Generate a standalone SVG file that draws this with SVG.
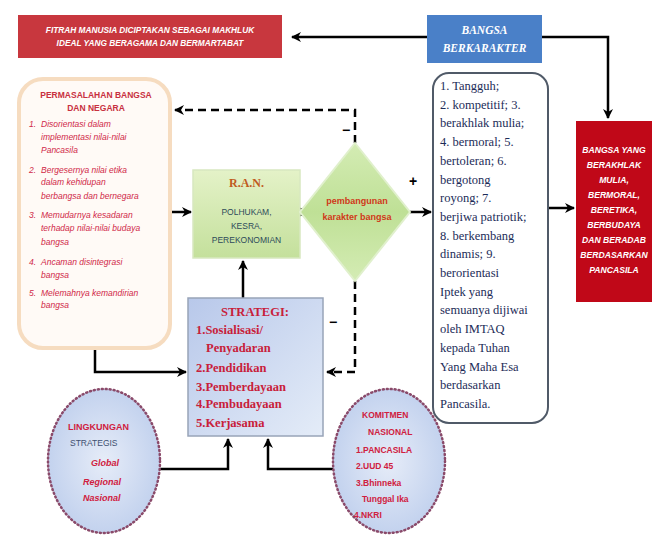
<svg xmlns="http://www.w3.org/2000/svg" width="656" height="540" viewBox="0 0 656 540">
<style>
.ln{fill:none;stroke:#000;stroke-width:2.5}
.dash{fill:none;stroke:#000;stroke-width:2.5;stroke-dasharray:8 5}
.sans{font-family:"Liberation Sans",Arial,sans-serif}
.serif{font-family:"Liberation Serif","Times New Roman",serif}
.wt{fill:#fff;font-weight:bold}
.perm{fill:#d02848;font-size:8.5px;font-style:italic}
.right{fill:#1c2c58;font-size:12.5px}
.strat{fill:#c8203a;font-size:12.5px;font-weight:bold}
.ell{fill:#d02040;font-weight:bold}
.sign{font-family:"Liberation Sans",Arial,sans-serif;font-size:14px;fill:#000;font-weight:bold}
</style>
<defs>
<marker id="ah" viewBox="0 0 10 10" refX="9" refY="5" markerWidth="4" markerHeight="4" orient="auto-start-reverse" markerUnits="strokeWidth">
<path d="M0,0 L10,5 L0,10 L3,5 z" fill="#000"/>
</marker>
<linearGradient id="gGreen" x1="0" y1="0" x2="0" y2="1">
<stop offset="0" stop-color="#e4f2c8"/><stop offset="1" stop-color="#c4e09c"/>
</linearGradient>
<linearGradient id="gDia" x1="0" y1="0" x2="0" y2="1">
<stop offset="0" stop-color="#d4ecb4"/><stop offset="0.5" stop-color="#bfe096"/><stop offset="1" stop-color="#d4ecb4"/>
</linearGradient>
<linearGradient id="gStrat" x1="0" y1="0" x2="1" y2="1">
<stop offset="0" stop-color="#b8c8ea"/><stop offset="1" stop-color="#e4ecf8"/>
</linearGradient>
<radialGradient id="gEll" cx="0.5" cy="0.5" r="0.6">
<stop offset="0" stop-color="#e6ecf8"/><stop offset="1" stop-color="#bccdec"/>
</radialGradient>
</defs>
<rect width="656" height="540" fill="#fff"/>

<g id="connectors">
<path class="ln" d="M427,37 H292" marker-end="url(#ah)"/>
<path class="ln" d="M542,37 H608 V118" marker-end="url(#ah)"/>
<path class="dash" d="M355,143 V110 H175" marker-end="url(#ah)"/>
<path class="ln" d="M170,212 H191" marker-end="url(#ah)"/>
<path class="ln" d="M300,212 H308" marker-end="url(#ah)"/>
<path class="ln" d="M410,212 H431" marker-end="url(#ah)"/>
<path class="ln" d="M548,208 H574" marker-end="url(#ah)"/>
<path class="ln" d="M243,298 V261" marker-end="url(#ah)"/>
<path class="dash" d="M355,281 V372 H327" marker-end="url(#ah)"/>
<path class="ln" d="M95,350 V372 H186" marker-end="url(#ah)"/>
<path class="ln" d="M160,469 H228 V439" marker-end="url(#ah)"/>
<path class="ln" d="M333,469 H268 V439" marker-end="url(#ah)"/>
<text class="sign" x="342" y="135">−</text>
<text class="sign" x="329" y="327">−</text>
<text class="sign" x="409" y="186">+</text>
</g>

<g id="fitrah">
<rect x="18" y="15" width="264" height="43" fill="#c8373e"/>
<text class="sans wt" font-size="8.3" font-style="italic" text-anchor="middle" x="150" y="33">FITRAH MANUSIA DICIPTAKAN SEBAGAI MAKHLUK</text>
<text class="sans wt" font-size="8.3" font-style="italic" text-anchor="middle" x="150" y="46">IDEAL YANG BERAGAMA DAN BERMARTABAT</text>
</g>

<g id="bangsa-berkarakter">
<rect x="427" y="15" width="115" height="48" fill="#4a80c8"/>
<text class="serif wt" font-size="11.5" font-style="italic" text-anchor="middle" x="484.5" y="34">BANGSA</text>
<text class="serif wt" font-size="11.5" font-style="italic" text-anchor="middle" x="484.5" y="52">BERKARAKTER</text>
</g>

<g id="permasalahan">
<rect x="19" y="79" width="151" height="269" rx="24" fill="#fffaf6" stroke="#f6dcc0" stroke-width="4"/>
<text class="sans" font-size="8.5" font-weight="bold" fill="#c83040" text-anchor="middle" x="96" y="98">PERMASALAHAN BANGSA</text>
<text class="sans" font-size="8.5" font-weight="bold" fill="#c83040" text-anchor="middle" x="96" y="111">DAN NEGARA</text>
<g class="sans perm">
<text x="29" y="127">1.</text><text x="41" y="127">Disorientasi dalam</text>
<text x="41" y="140">implementasi nilai-nilai</text>
<text x="41" y="153">Pancasila</text>
<text x="29" y="173">2.</text><text x="41" y="173">Bergesernya nilai etika</text>
<text x="41" y="185">dalam kehidupan</text>
<text x="41" y="199">berbangsa dan bernegara</text>
<text x="29" y="218">3.</text><text x="41" y="218">Memudarnya kesadaran</text>
<text x="41" y="231">terhadap nilai-nilai budaya</text>
<text x="41" y="245">bangsa</text>
<text x="29" y="265">4.</text><text x="41" y="265">Ancaman disintegrasi</text>
<text x="41" y="278">bangsa</text>
<text x="29" y="296">5.</text><text x="41" y="296">Melemahnya kemandirian</text>
<text x="41" y="308">bangsa</text>
</g>
</g>

<g id="ran">
<rect x="193" y="170" width="107" height="88" fill="url(#gGreen)" stroke="#d8e8c0" stroke-width="1.5"/>
<text class="serif" font-size="12" font-weight="bold" fill="#c05a20" text-anchor="middle" x="246.5" y="187">R.A.N.</text>
<g class="sans" font-size="8.5" fill="#2e4a5a" text-anchor="middle">
<text x="246.5" y="215">POLHUKAM,</text>
<text x="246.5" y="229">KESRA,</text>
<text x="246.5" y="243">PEREKONOMIAN</text>
</g>
</g>

<g id="pembangunan">
<polygon points="355,143 410,212 355,281 300,212" fill="url(#gDia)" stroke="#e0f0cc" stroke-width="2"/>
<text class="sans" font-size="9" font-weight="bold" fill="#d03818" text-anchor="middle" x="357" y="204">pembangunan</text>
<text class="sans" font-size="9" font-weight="bold" fill="#d03818" text-anchor="middle" x="357" y="220">karakter bangsa</text>
</g>

<g id="nilai">
<rect x="433" y="73" width="115" height="350" rx="16" fill="#fff" stroke="#505a68" stroke-width="2"/>
<g class="serif right">
<text x="440" y="90">1. Tangguh;</text>
<text x="440" y="108.7">2. kompetitif; 3.</text>
<text x="440" y="127.4">berakhlak mulia;</text>
<text x="440" y="146.1">4. bermoral;   5.</text>
<text x="440" y="164.8">bertoleran; 6.</text>
<text x="440" y="183.5">bergotong</text>
<text x="440" y="202.2">royong; 7.</text>
<text x="440" y="220.9">berjiwa patriotik;</text>
<text x="440" y="239.6">8. berkembang</text>
<text x="440" y="258.3">dinamis; 9.</text>
<text x="440" y="277">berorientasi</text>
<text x="440" y="295.7">Iptek yang</text>
<text x="440" y="314.4">semuanya dijiwai</text>
<text x="440" y="333.1">oleh IMTAQ</text>
<text x="440" y="351.8">kepada Tuhan</text>
<text x="440" y="370.5">Yang Maha Esa</text>
<text x="440" y="389.2">berdasarkan</text>
<text x="440" y="407.9">Pancasila.</text>
</g>
</g>

<g id="tujuan">
<rect x="576" y="121" width="76" height="181" fill="#c00818"/>
<g class="sans wt" font-size="8.6" font-style="italic" text-anchor="middle">
<text x="614" y="153">BANGSA YANG</text>
<text x="614" y="168">BERAKHLAK</text>
<text x="614" y="183">MULIA,</text>
<text x="614" y="198">BERMORAL,</text>
<text x="614" y="213">BERETIKA,</text>
<text x="614" y="228">BERBUDAYA</text>
<text x="614" y="243">DAN BERADAB</text>
<text x="614" y="258">BERDASARKAN</text>
<text x="614" y="273">PANCASILA</text>
</g>
</g>

<g id="strategi">
<rect x="188" y="298" width="135" height="138" fill="url(#gStrat)" stroke="#98a4b8" stroke-width="1.5"/>
<text class="serif strat" text-anchor="middle" x="255" y="316">STRATEGI:</text>
<g class="serif strat">
<text x="196" y="334">1.Sosialisasi/</text>
<text x="206" y="352">Penyadaran</text>
<text x="196" y="372">2.Pendidikan</text>
<text x="196" y="391">3.Pemberdayaan</text>
<text x="196" y="408">4.Pembudayaan</text>
<text x="196" y="427">5.Kerjasama</text>
</g>
</g>

<g id="lingkungan">
<ellipse cx="104" cy="461" rx="56" ry="72" fill="url(#gEll)" stroke="#8a4a6a" stroke-width="2.5" stroke-dasharray="1 3" stroke-linecap="round"/>
<text class="sans ell" font-size="9" x="68" y="430">LINGKUNGAN</text>
<text class="sans" font-size="8.5" fill="#405070" x="70" y="446">STRATEGIS</text>
<text class="sans ell" font-size="9" font-style="italic" x="91" y="466">Global</text>
<text class="sans ell" font-size="9" font-style="italic" x="83" y="485">Regional</text>
<text class="sans ell" font-size="9" font-style="italic" x="83" y="501">Nasional</text>
</g>

<g id="komitmen">
<ellipse cx="389" cy="461" rx="56" ry="72" fill="url(#gEll)" stroke="#8a4a6a" stroke-width="2.5" stroke-dasharray="1 3" stroke-linecap="round"/>
<g class="sans ell" font-size="8.5">
<text x="362" y="418">KOMITMEN</text>
<text x="368" y="435">NASIONAL</text>
<text x="356" y="453">1.PANCASILA</text>
<text x="356" y="469">2.UUD 45</text>
<text x="356" y="486">3.Bhinneka</text>
<text x="362" y="502">Tunggal Ika</text>
<text x="354" y="518">4.NKRI</text>
</g>
</g>
</svg>
